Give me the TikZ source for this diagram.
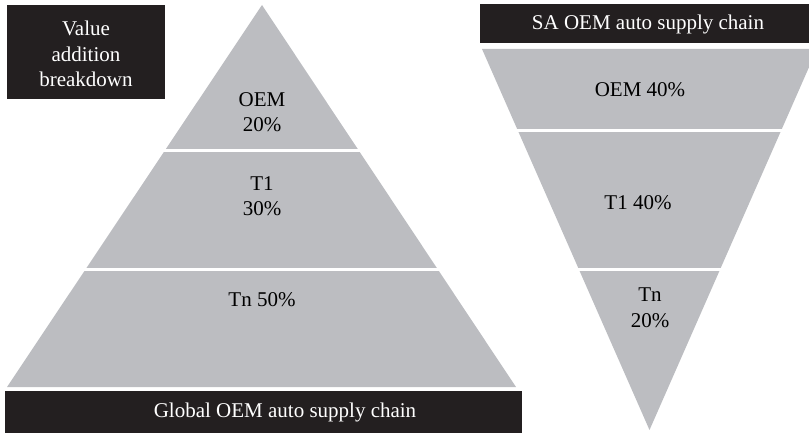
\documentclass[tikz,border=0pt]{standalone}
\usepackage{fontspec}
\setmainfont{Liberation Serif}
\definecolor{bandgray}{RGB}{188,189,193}
\definecolor{barblack}{RGB}{35,31,32}

\begin{document}
\begin{tikzpicture}
  [x=1pt,y=-1pt,every node/.style={align=center,inner sep=0pt,font=\fontsize{21}{25.5}\selectfont}]
  \useasboundingbox (0,0) rectangle (809,433);
  \clip (0,0) rectangle (809,433);

  % pyramids
  \fill[bandgray] (262,5) -- (516,387) -- (7,387) -- cycle;
  \fill[bandgray] (482,49) -- (817,49) -- (649.5,430) -- cycle;
  \foreach \y in {150.5,269.5}
    \draw[white,line width=3pt] (60,\y) -- (465,\y);
  \foreach \y in {130.5,269.5}
    \draw[white,line width=3pt] (470,\y) -- (809,\y);

  % black bars
  \fill[barblack] (7,5) rectangle (165,99);
  \fill[barblack] (5,391) rectangle (522,433);
  \fill[barblack] (480,4) rectangle (809,43);

  \node[text=white] (value) at (86,54) {Value\\addition\\breakdown};
  \node[text=white] (global) at (285,412) {Global OEM auto supply chain};
  \node[text=white] (sa) at (648,24) {SA OEM auto supply chain};

  \node (goem) at (262,112) {OEM\\20\%};
  \node (gt1) at (262,196) {T1\\30\%};
  \node (gtn) at (262,300) {Tn 50\%};
  \node (soem) at (640,90) {OEM 40\%};
  \node (st1) at (638,203) {T1 40\%};
  \node (stn) at (650,308) {Tn\\20\%};
\end{tikzpicture}
\end{document}
